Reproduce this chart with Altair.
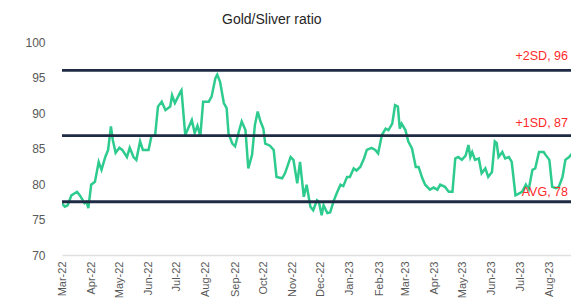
import altair as alt
import pandas as pd

# Gold/Silver ratio (day offsets from 2022-03-01)
days = [0, 3, 6, 10, 16, 19, 24, 26, 28, 31, 35, 39, 42, 46, 49, 52, 54, 57, 61, 64,
        69, 72, 76, 79, 83, 86, 92, 95, 99, 102, 106, 110, 115, 117, 120, 126, 127, 131,
        138, 141, 144, 147, 150, 156, 159, 163, 165, 168, 172, 175, 177, 181, 184, 188,
        191, 195, 198, 202, 205, 208, 211, 214, 216, 221, 225, 228, 234, 237, 243, 246,
        250, 253, 257, 260, 264, 267, 271, 273, 276, 278, 282, 285, 289, 292, 296, 299,
        303, 306, 310, 313, 317, 321, 324, 329, 333, 336, 340, 344, 347, 351, 354, 357,
        359, 361, 365, 368, 372, 376, 379, 383, 386, 391, 395, 399, 402, 407, 411, 415,
        418, 421, 425, 429, 432, 434, 436, 439, 443, 446, 450, 453, 457, 460, 462, 464,
        468, 471, 475, 478, 482, 485, 489, 493, 496, 500, 503, 507, 512, 514, 518, 521,
        525, 528, 532, 535, 539, 542, 546, 550]
ratio = [77.3, 76.8, 77.0, 78.4, 78.9, 78.4, 77.3, 77.5, 76.6, 79.9, 80.3, 83.1, 82.0, 83.8, 84.8, 88.1, 86.2, 84.4, 85.1, 84.8,
         83.8, 85.1, 83.8, 83.4, 86.0, 84.8, 84.8, 86.7, 86.9, 90.9, 91.6, 90.4, 90.9, 92.5, 91.4, 93.0, 93.2, 86.9,
         89.0, 87.2, 88.2, 86.7, 91.6, 91.6, 92.3, 94.9, 95.4, 94.4, 91.4, 90.7, 87.1, 85.7, 85.3, 87.4,
         88.8, 87.6, 82.2, 84.1, 88.3, 90.2, 88.8, 87.8, 85.7, 85.4, 84.8, 81.0, 80.8, 81.5, 83.8, 83.4,
         80.1, 83.1, 78.2, 79.9, 76.8, 76.3, 77.7, 77.5, 75.6, 77.0, 75.9, 76.0, 77.7, 78.7, 79.9, 79.7,
         81.0, 81.0, 82.2, 81.9, 82.4, 83.6, 84.8, 85.1, 84.8, 84.3, 86.9, 87.8, 87.6, 88.5, 91.1, 90.9,
         87.8, 88.5, 87.6, 86.0, 85.0, 82.4, 82.4, 80.8, 79.9, 79.2, 79.5, 79.2, 79.9, 79.6, 78.9, 78.9,
         83.6, 83.8, 83.4, 84.0, 85.5, 83.8, 84.5, 83.4, 83.6, 81.5, 82.2, 81.0, 81.7, 86.0, 85.8, 83.8,
         84.5, 83.6, 83.8, 83.1, 78.4, 78.6, 78.9, 79.9, 79.2, 82.0, 82.2, 84.5, 84.5, 84.1, 83.4, 79.6,
         79.4, 79.6, 81.0, 83.4, 83.8, 84.3, 83.6, 83.4]

ref_values = [96.0, 86.8, 77.5]
ref_labels = ["+2SD, 96", "+1SD, 87", "AVG, 78"]
ref_dy = [-14, -13, -10]

start = pd.Timestamp("2022-03-01")
df = pd.DataFrame({"date": start + pd.to_timedelta(days, unit="D"), "ratio": ratio})

W, H = 509, 213
x_domain = [start.strftime("%Y-%m-%d"), (start + pd.Timedelta(days=541)).strftime("%Y-%m-%d")]
yscale = alt.Scale(domain=[70, 100], nice=False, zero=False)

x = alt.X("date:T", title=None,
          scale=alt.Scale(domain=x_domain, nice=False),
          axis=alt.Axis(format="%b-%y", tickCount={"interval": "month", "step": 1},
                        labelAngle=270, labelFontSize=11, labelColor="#595959",
                        labelFont="Liberation Sans", labelPadding=6,
                        ticks=False, tickSize=0, grid=False,
                        domainColor="#e0e0e0", domainWidth=1.5, labelOverlap=False))
y = alt.Y("ratio:Q", title=None, scale=yscale,
          axis=alt.Axis(values=[70, 75, 80, 85, 90, 95, 100], grid=False, domain=False,
                        ticks=False, tickSize=0, labelPadding=17, labelFontSize=12,
                        labelColor="#595959", labelFont="Liberation Sans",
                        labelOverlap=False))

line = alt.Chart(df).mark_line(color="#2ECB8E", strokeWidth=2.5, clip=True).encode(x=x, y=y)

rules = alt.Chart(pd.DataFrame({"ratio": ref_values})).mark_rule(
    color="#1F2B45", strokeWidth=2.8
).encode(y=y)

texts = []
for v, lab, dy in zip(ref_values, ref_labels, ref_dy):
    texts.append(
        alt.Chart(pd.DataFrame({"ratio": [v], "label": [lab]})).mark_text(
            align="right", baseline="middle", dy=dy, fontSize=12.5,
            font="Liberation Sans", color="#FF2A2A"
        ).encode(
            x=alt.value(W - 3),
            y=y,
            text="label:N",
        )
    )

chart = alt.layer(line, rules, *texts).properties(
    width=W, height=H,
    background="white",
    title=alt.TitleParams("Gold/Sliver ratio", anchor="start", frame="group", dx=160,
                          fontSize=14, font="Liberation Sans", fontWeight="normal",
                          color="#262626", offset=9),
    padding={"left": 54, "top": 34, "right": 0, "bottom": 50},
    autosize=alt.AutoSizeParams(type="none"),
).configure_view(strokeWidth=0, stroke="transparent").configure_axis(grid=False)

chart.save("out.html", embed_options={"renderer": "svg", "actions": False})
